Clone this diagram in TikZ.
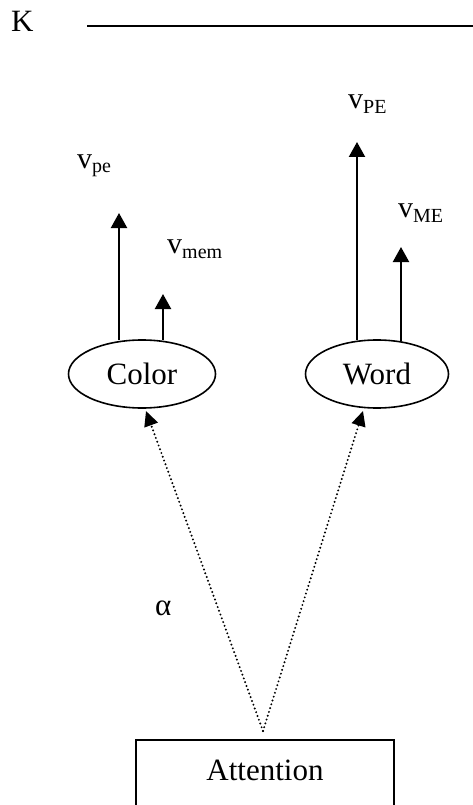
\documentclass[tikz,border=0pt]{standalone}
\usepackage{fontspec}
\setmainfont{Liberation Serif}
\usetikzlibrary{arrows.meta,shapes.geometric,calc}
\newcommand\lowsub[1]{\raisebox{-5pt}{\fontsize{20}{20}\selectfont #1}}
\begin{document}
\begin{tikzpicture}[x=1pt,y=-1pt,
  bigtext/.style={font=\fontsize{31}{36}\selectfont},
  vlabel/.style={anchor=base west,inner sep=0pt,font=\fontsize{30}{34}\selectfont},
  unit/.style={ellipse,draw,line width=1.6pt,minimum height=68pt,inner sep=0pt,bigtext},
  outarrow/.style={line width=2.2pt,-{Triangle[width=16pt,length=15pt]}},
  attnarrow/.style={line width=2.2pt,line cap=round,dash pattern=on 0pt off 4pt,
    -{Triangle[width=14pt,length=15pt,line cap=butt]}}]
  \useasboundingbox (0,0) rectangle (473,805);
  \clip (0,0) rectangle (473,805);

  % heading
  \node[anchor=base west,inner sep=0pt,bigtext] (K) at (11,32) {K};
  \coordinate (rulestart) at (87,26);
  \coordinate (ruleend) at (473,26);
  \draw[line width=2.2pt] (rulestart) -- (ruleend);

  % processing units
  \node[unit,minimum width=147pt] (Color) at (142,374) {Color};
  \node[unit,minimum width=143pt] (Word) at (377,374) {Word};

  % output arrows
  \coordinate (cpe) at (119,213);
  \coordinate (cmem) at (163,294);
  \coordinate (wpe) at (357,142);
  \coordinate (wme) at (401,247);
  \draw[outarrow] ([xshift=-23pt,yshift=-1pt]Color.north) -- (cpe);
  \draw[outarrow] ([xshift=21pt,yshift=-1pt]Color.north) -- (cmem);
  \draw[outarrow] ([xshift=-20pt,yshift=-1pt]Word.north) -- (wpe);
  \draw[outarrow] ([xshift=24pt,yshift=-2pt]Word.north) -- (wme);

  \node[vlabel] (lpe) at (77,168) {v\lowsub{pe}};
  \node[vlabel] (lmem) at (167,253) {v\lowsub{mem}};
  \node[vlabel] (lPE) at (348,109) {v\lowsub{PE}};
  \node[vlabel] (lME) at (398,217) {v\lowsub{ME}};

  % attention module
  \node[draw,line width=1.8pt,anchor=north,minimum width=258pt,inner xsep=0pt,
        inner ysep=20pt,text height=21pt,text depth=60pt,bigtext] (Attention) at (265,739) {Attention};
  \coordinate (apex) at (263,731);
  \coordinate (ctip) at (146,411);
  \coordinate (wtip) at (363,411);
  \draw[attnarrow] (apex) -- (ctip);
  \draw[attnarrow] (apex) -- (wtip);

  \node[anchor=base west,inner sep=0pt,font=\fontsize{31}{36}\selectfont] (alpha) at (155,615) {α};
\end{tikzpicture}
\end{document}
